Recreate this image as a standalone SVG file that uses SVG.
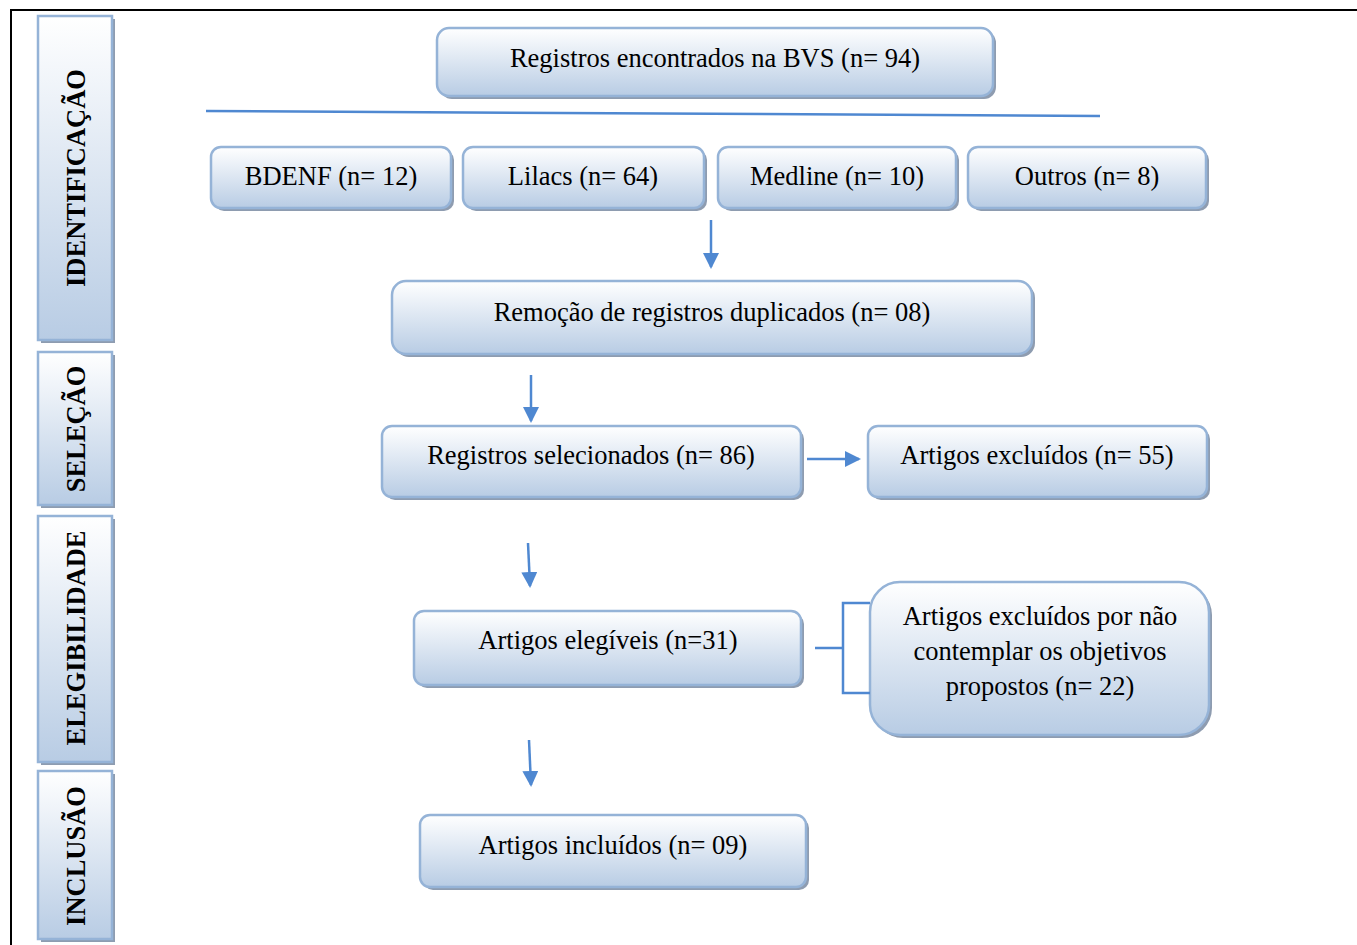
<svg xmlns="http://www.w3.org/2000/svg" width="1357" height="945" viewBox="0 0 1357 945">
<defs>
<linearGradient id="g" x1="0" y1="0" x2="0" y2="1">
<stop offset="0" stop-color="#ffffff"/>
<stop offset="1" stop-color="#b8cce4"/>
</linearGradient>
<linearGradient id="gs" x1="0" y1="0" x2="0" y2="1">
<stop offset="0" stop-color="#ffffff"/>
<stop offset="1" stop-color="#b8cce4"/>
</linearGradient>
<marker id="ah" markerWidth="16" markerHeight="16" refX="14" refY="8" orient="auto" markerUnits="userSpaceOnUse" viewBox="0 0 16 16">
<path d="M0,0 L16,8 L0,16 z" fill="#4f88d1"/>
</marker>
<style>
.box{fill:url(#g);stroke:#95b3d7;stroke-width:2.5}
.sh{fill:#8e9cb0}
.side{fill:url(#gs);stroke:#95b3d7;stroke-width:2.5}
.t{font-family:"Liberation Serif","Times New Roman",serif;font-size:26.5px;fill:#000;text-anchor:middle}
.s{font-family:"Liberation Serif","Times New Roman",serif;font-size:26.5px;font-weight:bold;fill:#000;text-anchor:middle}
.c{stroke:#4f88d1;stroke-width:2.5;fill:none}
</style>
</defs>
<rect width="1357" height="945" fill="#fff"/>
<path d="M11,945 V10 H1357" fill="none" stroke="#000" stroke-width="2"/>

<g id="side-identificacao">
<rect class="sh" x="41" y="19" width="74" height="324"/>
<rect class="side" x="38" y="16" width="74" height="324"/>
<text class="s" transform="translate(85,178) rotate(-90)">IDENTIFICAÇÃO</text>
</g>
<g id="side-selecao">
<rect class="sh" x="41" y="355" width="74" height="153"/>
<rect class="side" x="38" y="352" width="74" height="153"/>
<text class="s" transform="translate(85,429) rotate(-90)">SELEÇÃO</text>
</g>
<g id="side-elegibilidade">
<rect class="sh" x="41" y="519" width="74" height="246"/>
<rect class="side" x="38" y="516" width="74" height="246"/>
<text class="s" transform="translate(85,638) rotate(-90)">ELEGIBILIDADE</text>
</g>
<g id="side-inclusao">
<rect class="sh" x="41" y="774" width="74" height="168"/>
<rect class="side" x="38" y="771" width="74" height="168"/>
<text class="s" transform="translate(85,856) rotate(-90)">INCLUSÃO</text>
</g>

<g id="n-bvs">
<rect class="sh" x="440" y="31" width="556" height="68" rx="12"/>
<rect class="box" x="437" y="28" width="556" height="68" rx="12"/>
<text class="t" x="715" y="67">Registros encontrados na BVS (n= 94)</text>
</g>
<g id="n-bdenf">
<rect class="sh" x="214" y="150" width="240" height="61" rx="10"/>
<rect class="box" x="211" y="147" width="240" height="61" rx="10"/>
<text class="t" x="331" y="185">BDENF (n= 12)</text>
</g>
<g id="n-lilacs">
<rect class="sh" x="466" y="150" width="241" height="61" rx="10"/>
<rect class="box" x="463" y="147" width="241" height="61" rx="10"/>
<text class="t" x="583" y="185">Lilacs (n= 64)</text>
</g>
<g id="n-medline">
<rect class="sh" x="721" y="150" width="238" height="61" rx="10"/>
<rect class="box" x="718" y="147" width="238" height="61" rx="10"/>
<text class="t" x="837" y="185">Medline (n= 10)</text>
</g>
<g id="n-outros">
<rect class="sh" x="971" y="150" width="238" height="61" rx="10"/>
<rect class="box" x="968" y="147" width="238" height="61" rx="10"/>
<text class="t" x="1087" y="185">Outros (n= 8)</text>
</g>
<g id="n-remocao">
<rect class="sh" x="395" y="284" width="640" height="73" rx="14"/>
<rect class="box" x="392" y="281" width="640" height="73" rx="14"/>
<text class="t" x="712" y="321">Remoção de registros duplicados (n= 08)</text>
</g>
<g id="n-selecionados">
<rect class="sh" x="385" y="429" width="419" height="71" rx="10"/>
<rect class="box" x="382" y="426" width="419" height="71" rx="10"/>
<text class="t" x="591" y="464">Registros selecionados (n= 86)</text>
</g>
<g id="n-excluidos">
<rect class="sh" x="871" y="429" width="339" height="71" rx="10"/>
<rect class="box" x="868" y="426" width="339" height="71" rx="10"/>
<text class="t" x="1037" y="464">Artigos excluídos (n= 55)</text>
</g>
<g id="n-elegiveis">
<rect class="sh" x="417" y="614" width="387" height="74" rx="10"/>
<rect class="box" x="414" y="611" width="387" height="74" rx="10"/>
<text class="t" x="608" y="649">Artigos elegíveis (n=31)</text>
</g>
<g id="n-excluidos2">
<rect class="sh" x="873" y="585" width="339" height="153" rx="30"/>
<rect class="box" x="870" y="582" width="339" height="153" rx="30"/>
<text class="t" x="1040" y="625">Artigos excluídos por não</text>
<text class="t" x="1040" y="660">contemplar os objetivos</text>
<text class="t" x="1040" y="695">propostos (n= 22)</text>
</g>
<g id="n-incluidos">
<rect class="sh" x="423" y="818" width="386" height="72" rx="10"/>
<rect class="box" x="420" y="815" width="386" height="72" rx="10"/>
<text class="t" x="613" y="854">Artigos incluídos (n= 09)</text>
</g>

<g id="connectors">
<line class="c" x1="206" y1="111" x2="1100" y2="116"/>
<line class="c" x1="711" y1="220" x2="711" y2="267" marker-end="url(#ah)"/>
<line class="c" x1="531" y1="375" x2="531" y2="421" marker-end="url(#ah)"/>
<line class="c" x1="807" y1="459" x2="859" y2="459" marker-end="url(#ah)"/>
<line class="c" x1="528" y1="543" x2="530" y2="586" marker-end="url(#ah)"/>
<path class="c" d="M815,648 H843 M870,603 H843 V693 H870"/>
<line class="c" x1="529" y1="740" x2="531" y2="785" marker-end="url(#ah)"/>
</g>
</svg>
